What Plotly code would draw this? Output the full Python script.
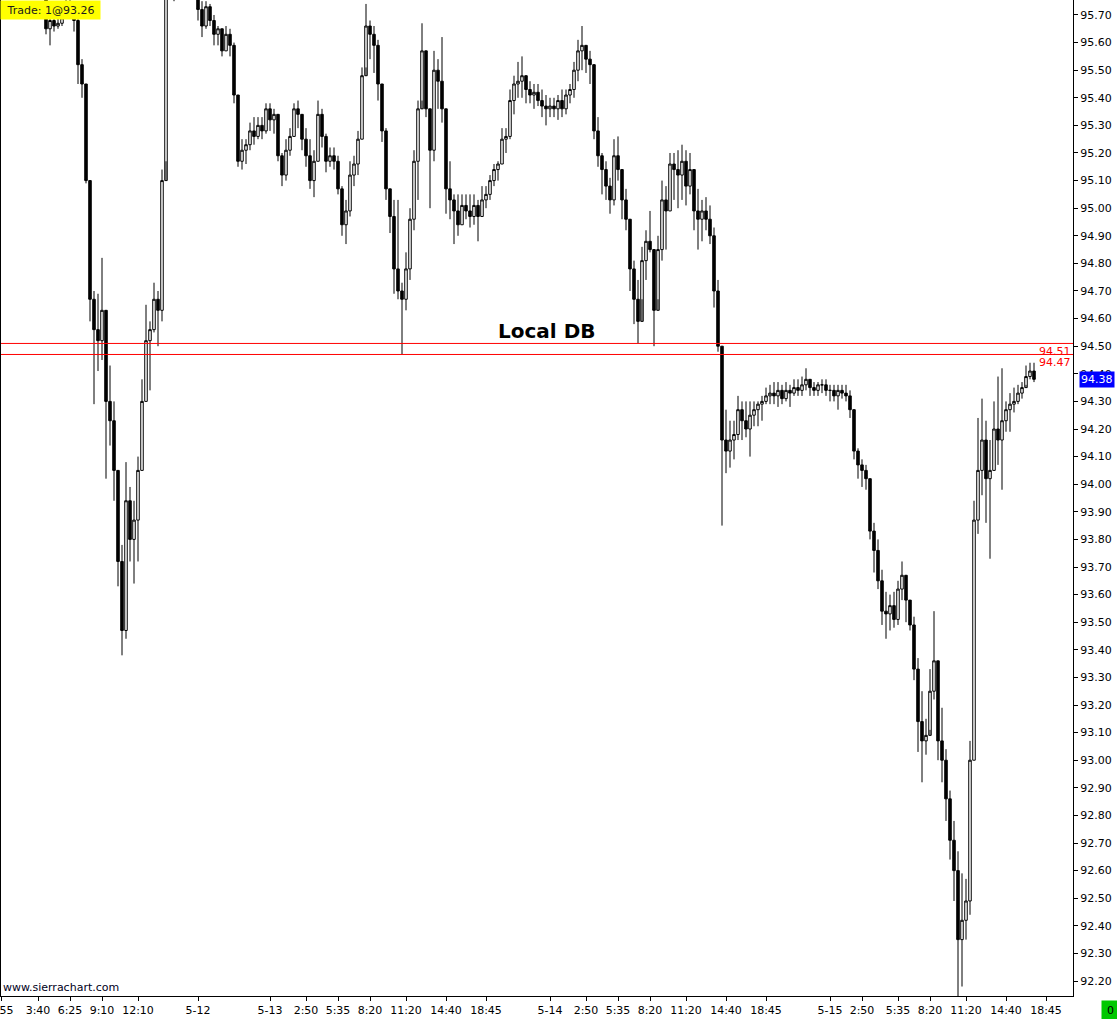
import plotly.graph_objects as go

# ---------------- data ----------------
first_open = 95.83

closes = [
    95.82, 95.84, 95.86, 95.85, 95.83, 95.84, 95.82, 95.80, 95.81, 95.79, 95.78,
    95.65, 95.68, 95.66, 95.67, 95.69, 95.74, 95.73, 95.68, 95.52, 95.45,
    95.10, 94.67, 94.56, 94.52, 94.63, 94.30, 94.23, 94.05, 93.72, 93.47,
    93.94, 93.80, 93.87, 94.05, 94.30, 94.52, 94.56, 94.67, 94.63, 95.10,
    95.77, 95.80, 95.79, 95.82, 95.85, 95.83, 95.81, 95.80, 95.72, 95.66,
    95.73, 95.68, 95.63, 95.65, 95.57, 95.63, 95.59, 95.41, 95.17, 95.21,
    95.23, 95.28, 95.26, 95.30, 95.28, 95.36, 95.32, 95.34, 95.19, 95.12,
    95.21, 95.26, 95.36, 95.34, 95.25, 95.19, 95.10, 95.17, 95.34, 95.26,
    95.17, 95.19, 95.17, 95.07, 94.94, 94.99, 95.12, 95.16, 95.25, 95.48,
    95.66, 95.63, 95.59, 95.45, 95.28, 95.07, 94.97, 94.78, 94.70, 94.67,
    94.78, 94.96, 95.17, 95.36, 95.57, 95.36, 95.21, 95.50, 95.46, 95.36,
    95.07, 95.03, 94.99, 94.94, 95.01, 94.99, 94.97, 95.01, 94.97, 95.03,
    95.05, 95.10, 95.14, 95.16, 95.25, 95.26, 95.39, 95.45, 95.46, 95.48,
    95.43, 95.41, 95.42, 95.39, 95.37, 95.36, 95.37, 95.36, 95.39, 95.36,
    95.41, 95.43, 95.50, 95.57, 95.59, 95.54, 95.52, 95.28, 95.19, 95.14,
    95.08, 95.03, 95.19, 95.14, 95.03, 94.96, 94.78, 94.67, 94.59, 94.81,
    94.88, 94.85, 94.63, 94.85, 95.03, 94.99, 95.16, 95.14, 95.12, 95.17,
    95.08, 95.14, 94.99, 94.96, 94.99, 94.96, 94.90, 94.70, 94.50, 94.16,
    94.12, 94.16, 94.18, 94.27, 94.23, 94.20, 94.25, 94.27, 94.29, 94.30,
    94.32, 94.33, 94.32, 94.34, 94.31, 94.34, 94.33, 94.35, 94.34, 94.36,
    94.38, 94.35, 94.34, 94.36, 94.36, 94.34, 94.34, 94.32, 94.34, 94.33,
    94.32, 94.27, 94.12, 94.07, 94.05, 94.02, 93.83, 93.76, 93.65, 93.54,
    93.53, 93.56, 93.51, 93.62, 93.67, 93.58, 93.49, 93.33, 93.14, 93.07,
    93.09, 93.25, 93.36, 93.07, 93.00, 92.86, 92.71, 92.60, 92.35, 92.42,
    92.49, 93.00, 93.87, 94.05, 94.16, 94.02, 94.05, 94.20, 94.16, 94.23,
    94.27, 94.29, 94.30, 94.33, 94.35, 94.39, 94.41, 94.38,
]

highs = [
    95.84, 95.86, 95.88, 95.87, 95.86, 95.87, 95.85, 95.84, 95.84, 95.83, 95.81,
    95.79, 95.70, 95.71, 95.70, 95.72, 95.76, 95.77, 95.74, 95.69, 95.54,
    95.45, 95.10, 94.70, 94.69, 94.82, 94.59, 94.43, 94.30, 94.02, 93.78,
    94.08, 93.99, 93.94, 94.10, 94.38, 94.65, 94.59, 94.73, 94.70, 95.14,
    95.80, 95.83, 95.82, 95.85, 95.88, 95.87, 95.86, 95.84, 95.81, 95.75,
    95.75, 95.74, 95.70, 95.66, 95.65, 95.66, 95.65, 95.60, 95.41, 95.25,
    95.25, 95.31, 95.33, 95.33, 95.33, 95.38, 95.38, 95.36, 95.34, 95.20,
    95.25, 95.29, 95.38, 95.39, 95.34, 95.29, 95.25, 95.21, 95.39, 95.36,
    95.27, 95.22, 95.22, 95.19, 95.08, 95.03, 95.17, 95.19, 95.28, 95.51,
    95.74, 95.68, 95.66, 95.61, 95.45, 95.29, 95.07, 95.03, 95.03, 94.73,
    94.84, 95.00, 95.21, 95.39, 95.67, 95.45, 95.36, 95.57, 95.54, 95.62,
    95.36, 95.17, 95.05, 95.05, 95.05, 95.05, 95.05, 95.05, 95.03, 95.08,
    95.08, 95.12, 95.16, 95.17, 95.29, 95.29, 95.43, 95.48, 95.53, 95.55,
    95.46, 95.46, 95.45, 95.45, 95.43, 95.41, 95.40, 95.40, 95.41, 95.43,
    95.43, 95.45, 95.53, 95.61, 95.66, 95.59, 95.57, 95.46, 95.33, 95.20,
    95.17, 95.11, 95.25, 95.26, 95.08, 95.07, 94.90, 94.81, 94.74, 94.86,
    94.92, 94.99, 94.81, 94.90, 95.10, 95.08, 95.20, 95.20, 95.21, 95.23,
    95.21, 95.20, 95.14, 95.07, 95.03, 95.04, 95.01, 94.93, 94.74, 94.50,
    94.27, 94.23, 94.23, 94.32, 94.30, 94.30, 94.30, 94.30, 94.30, 94.32,
    94.35, 94.36, 94.37, 94.37, 94.36, 94.37, 94.36, 94.38, 94.38, 94.39,
    94.42, 94.38, 94.37, 94.37, 94.38, 94.38, 94.36, 94.36, 94.36, 94.36,
    94.36, 94.34, 94.24, 94.13, 94.09, 94.07, 94.02, 93.86, 93.80, 93.69,
    93.61, 93.60, 93.61, 93.65, 93.72, 93.65, 93.58, 93.52, 93.37, 93.25,
    93.15, 93.33, 93.54, 93.36, 93.19, 93.04, 92.89, 92.78, 92.67, 92.59,
    92.57, 93.07, 93.94, 94.24, 94.31, 94.23, 94.16, 94.30, 94.39, 94.42,
    94.30, 94.33, 94.35, 94.36, 94.37, 94.43, 94.44, 94.44,
]

lows = [
    95.78, 95.80, 95.82, 95.81, 95.80, 95.81, 95.79, 95.78, 95.78, 95.77, 95.76,
    95.63, 95.59, 95.64, 95.65, 95.66, 95.69, 95.71, 95.64, 95.45, 95.40,
    95.09, 94.59, 94.29, 94.41, 94.45, 94.02, 94.14, 93.94, 93.63, 93.38,
    93.44, 93.72, 93.64, 93.72, 94.05, 94.30, 94.34, 94.55, 94.50, 94.59,
    95.17, 95.76, 95.75, 95.78, 95.80, 95.79, 95.78, 95.77, 95.68, 95.62,
    95.65, 95.66, 95.59, 95.59, 95.55, 95.57, 95.55, 95.38, 95.15, 95.14,
    95.16, 95.21, 95.23, 95.25, 95.25, 95.27, 95.28, 95.27, 95.17, 95.08,
    95.10, 95.19, 95.26, 95.29, 95.21, 95.15, 95.07, 95.04, 95.17, 95.22,
    95.13, 95.15, 95.14, 95.05, 94.90, 94.87, 94.97, 95.08, 95.12, 95.25,
    95.51, 95.54, 95.49, 95.39, 95.24, 95.03, 94.91, 94.69, 94.67, 94.47,
    94.63, 94.74, 94.92, 95.03, 95.39, 95.33, 95.00, 95.17, 95.36, 95.31,
    94.98, 94.96, 94.87, 94.90, 94.94, 94.96, 94.93, 94.94, 94.88, 94.97,
    95.00, 95.03, 95.08, 95.10, 95.16, 95.20, 95.25, 95.34, 95.40, 95.40,
    95.38, 95.38, 95.36, 95.37, 95.33, 95.30, 95.33, 95.33, 95.32, 95.33,
    95.34, 95.38, 95.40, 95.46, 95.50, 95.49, 95.45, 95.25, 95.15, 95.05,
    95.03, 94.98, 95.01, 95.10, 94.96, 94.92, 94.70, 94.58, 94.51, 94.67,
    94.74, 94.84, 94.50, 94.67, 94.81, 94.85, 94.99, 95.03, 95.00, 95.03,
    95.01, 95.05, 94.92, 94.85, 94.88, 94.92, 94.87, 94.64, 94.48, 93.85,
    94.04, 94.06, 94.09, 94.16, 94.16, 94.17, 94.10, 94.21, 94.21, 94.23,
    94.29, 94.29, 94.29, 94.28, 94.29, 94.30, 94.28, 94.32, 94.32, 94.32,
    94.34, 94.32, 94.32, 94.32, 94.33, 94.32, 94.30, 94.30, 94.27, 94.31,
    94.30, 94.24, 94.09, 94.02, 93.99, 93.98, 93.80, 93.68, 93.62, 93.49,
    93.44, 93.47, 93.48, 93.49, 93.58, 93.50, 93.47, 93.29, 93.03, 92.92,
    93.02, 93.11, 93.22, 93.00, 92.92, 92.78, 92.64, 92.49, 92.14, 92.18,
    92.35, 92.44, 93.00, 93.82, 93.96, 93.86, 93.73, 94.05, 94.07, 93.98,
    94.19, 94.19, 94.26, 94.29, 94.31, 94.36, 94.38, 94.37,
]

opens = [first_open] + closes[:-1]
bar_index = list(range(len(closes)))

tick_bars = [-0.2, 9, 17, 25, 34, 49, 67, 76, 84, 92, 101, 111, 121, 137, 146,
             154, 162, 171, 181, 191, 207, 215, 224, 232, 241, 251, 261]
tick_labels = ["0:55", "3:40", "6:25", "9:10", "12:10", "5-12", "5-13", "2:50",
               "5:35", "8:20", "11:20", "14:40", "18:45", "5-14", "2:50", "5:35",
               "8:20", "11:20", "14:40", "18:45", "5-15", "2:50", "5:35", "8:20",
               "11:20", "14:40", "18:45"]

level_lines = [94.51, 94.47]
last_price = 94.38
trade_text = "Trade: 1@93.26"
note_text = "Local DB"
note_bar = 136.25
note_price = 94.555

# ---------------- figure ----------------
FONT = "DejaVu Sans"
fig = go.Figure()
fig.add_trace(go.Candlestick(
    x=bar_index, open=opens, high=highs, low=lows, close=closes,
    increasing=dict(line=dict(color="black", width=1), fillcolor="white"),
    decreasing=dict(line=dict(color="black", width=1), fillcolor="black"),
    whiskerwidth=0, hoverinfo="skip", showlegend=False,
))

for lv in level_lines:
    fig.add_shape(type="line", xref="paper", x0=0, x1=1, yref="y", y0=lv, y1=lv,
                  line=dict(color="#ff0000", width=1), layer="above")
    fig.add_annotation(xref="paper", x=1, xanchor="right", xshift=-1,
                       yref="y", y=lv, yanchor="top", yshift=-1,
                       text=f"{lv:.2f}", showarrow=False, borderpad=0,
                       font=dict(family=FONT, size=11, color="#ff0000"))

fig.add_annotation(xref="paper", x=1, xanchor="left", xshift=6,
                   yref="y", y=last_price, yanchor="middle",
                   text=f"{last_price:.2f}", showarrow=False, bgcolor="#0000ff",
                   borderpad=1, font=dict(family=FONT, size=11, color="white"))

fig.add_annotation(xref="paper", x=0, xanchor="left", xshift=-1,
                   yref="paper", y=1, yanchor="top",
                   text=trade_text, showarrow=False, bgcolor="#ffff00",
                   width=95, height=14, borderpad=2,
                   font=dict(family=FONT, size=11, color="#1a1a1a"))

fig.add_annotation(xref="paper", x=0, xanchor="left", xshift=1,
                   yref="paper", y=0, yanchor="bottom", yshift=1,
                   text="www.sierrachart.com", showarrow=False, borderpad=0,
                   font=dict(family=FONT, size=11, color="#000020"))

fig.add_annotation(xref="x", x=note_bar, yref="y", y=note_price,
                   text=f"<b>{note_text}</b>", showarrow=False,
                   font=dict(family=FONT, size=20, color="black"))

fig.add_annotation(xref="paper", x=1.0257, xanchor="left",
                   yref="paper", y=-0.004, yanchor="top",
                   text="0", showarrow=False, bgcolor="#00c800",
                   width=13, height=15, borderpad=2,
                   font=dict(family=FONT, size=11, color="black"))

fig.update_layout(
    width=1117, height=1019,
    margin=dict(l=1, r=44, t=0, b=23, autoexpand=False),
    paper_bgcolor="white", plot_bgcolor="white", showlegend=False,
    boxgap=0.1,
    font=dict(family=FONT, size=11, color="black"),
    xaxis=dict(range=[-0.25, 267.75], rangeslider=dict(visible=False),
               tickmode="array", tickvals=tick_bars, ticktext=tick_labels,
               ticks="outside", ticklen=4, tickcolor="black", tickwidth=1,
               ticklabeloverflow="allow", automargin=False,
               showline=True, linecolor="black", linewidth=1,
               showgrid=False, zeroline=False, fixedrange=True,
               tickfont=dict(family=FONT, size=11, color="black")),
    yaxis=dict(side="right", range=[92.1457, 95.7543], dtick=0.1, tick0=92.2,
               tickformat=".2f", ticks="outside", ticklen=4, tickcolor="black",
               automargin=False,
               showline=True, mirror=True, linecolor="black", linewidth=1,
               showgrid=False, zeroline=False, fixedrange=True,
               tickfont=dict(family=FONT, size=11, color="black")),
)

fig.write_html("out.html", config={"displayModeBar": False},
               post_script="document.body.style.margin='0px';document.body.style.overflow='hidden';")
